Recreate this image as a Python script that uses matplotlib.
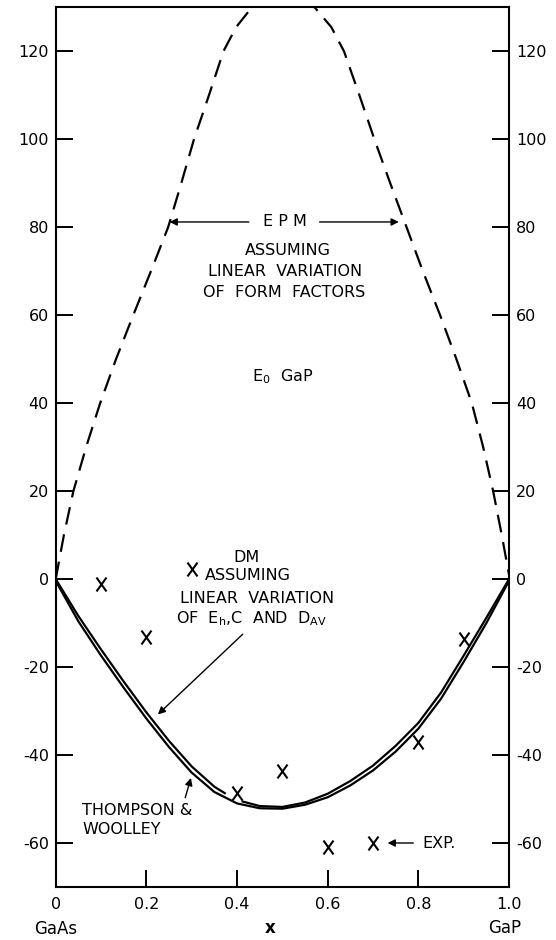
import matplotlib
matplotlib.use("Agg")
import matplotlib.pyplot as plt
import numpy as np
from matplotlib.path import Path

# EPM curve (dashed); top is clipped at 130
epm_x = [0.0, 0.018, 0.039, 0.067, 0.098, 0.133, 0.171, 0.21, 0.248, 0.277,
         0.305, 0.338, 0.370, 0.398, 0.432, 0.465, 0.503, 0.54,
         0.572, 0.608, 0.636, 0.67, 0.703, 0.738, 0.774, 0.81, 0.848,
         0.884, 0.918, 0.943, 0.965, 0.984, 1.0]
epm_y = [0.0, 10, 20, 30, 40, 50, 60, 70, 80, 90,
         100, 110, 120, 125.5, 129.9, 132.5, 133.6, 132.6,
         129.9, 125.5, 120, 110, 100, 90, 80, 70, 60,
         50, 40, 30, 20, 10, 1.0]

# DM curve (inner solid line); gap where it stops near x = 0.4
dm_x = [0.0, 0.05, 0.1, 0.15, 0.2, 0.25, 0.3, 0.35, 0.375, np.nan, 0.41,
        0.45, 0.5, 0.55, 0.6, 0.65, 0.7, 0.75, 0.8, 0.85, 0.9, 0.95, 1.0]
dm_y = [0.0, -8.4, -16.0, -23.3, -30.3, -36.8, -42.6, -47.2, -48.8, np.nan, -50.5,
        -51.6, -51.8, -50.8, -48.8, -45.9, -42.4, -37.9, -32.7, -25.8, -17.4, -8.8, 0.0]

# Thompson & Woolley curve (outer solid line)
tw_x = [0.0, 0.05, 0.1, 0.15, 0.2, 0.25, 0.3, 0.35, 0.4, 0.45, 0.5,
        0.55, 0.6, 0.65, 0.7, 0.75, 0.8, 0.85, 0.9, 0.95, 1.0]
tw_y = [-0.4, -9.6, -17.4, -24.7, -31.7, -38.2, -44.0, -48.4, -51.0, -52.1, -52.2,
        -51.3, -49.6, -46.9, -43.5, -39.2, -34.0, -27.2, -18.8, -10.0, -0.4]

# experimental points (X)
exp_x = [0.1, 0.2, 0.3, 0.4, 0.5, 0.6, 0.7, 0.8, 0.9]
exp_y = [-1.1, -13.2, 2.3, -48.7, -43.6, -60.8, -60.0, -37.1, -13.7]

x_ticks = [0, 0.2, 0.4, 0.6, 0.8, 1.0]
x_tick_labels = ["0", "0.2", "0.4", "0.6", "0.8", "1.0"]
y_ticks = [-60, -40, -20, 0, 20, 40, 60, 80, 100, 120]

plt.rcParams["font.family"] = "DejaVu Sans"
plt.rcParams["axes.unicode_minus"] = False

fig = plt.figure(figsize=(5.56, 9.40), dpi=100)
ax = fig.add_axes([0.1002, 0.0564, 0.8153, 0.9358])

ax.plot(epm_x, epm_y, color="black", lw=1.6, linestyle=(0, (8, 4.5)))
ax.plot(dm_x, dm_y, color="black", lw=1.6, solid_capstyle="butt")
ax.plot(tw_x, tw_y, color="black", lw=1.6)

x_marker = Path([(-0.72, -1), (0.72, 1), (-0.72, 1), (0.72, -1)],
                [Path.MOVETO, Path.LINETO, Path.MOVETO, Path.LINETO])
ax.plot(exp_x, exp_y, linestyle="none", marker=x_marker, ms=10,
        mew=1.5, color="black")

ax.set_xlim(0, 1.0)
ax.set_ylim(-70, 130)
ax.set_xticks(x_ticks)
ax.set_xticklabels(x_tick_labels)
ax.set_yticks(y_ticks)

for s in ax.spines.values():
    s.set_linewidth(1.5)
ax.tick_params(axis="y", direction="in", length=12.5, width=1.4,
               left=True, right=True, labelleft=True, labelright=True,
               labelsize=11.5, pad=5)
ax.tick_params(axis="x", direction="in", length=12, width=1.4,
               labelsize=11.5, pad=7)

# labels under the x axis
ax.text(0.0, -79.5, "GaAs", ha="center", va="center", fontsize=12, clip_on=False)
ax.text(0.473, -79.3, "x", ha="center", va="center", fontsize=12,
        fontweight="bold", clip_on=False)
ax.text(0.99, -79.3, "GaP", ha="center", va="center", fontsize=12, clip_on=False)

# EPM annotation
fs = 11.5
ax.text(0.505, 81.2, "E P M", ha="center", va="center", fontsize=fs)
arrow = dict(arrowstyle="-|>", color="black", lw=1.0, mutation_scale=11)
ax.annotate("", xy=(0.245, 81.2), xytext=(0.432, 81.2), arrowprops=arrow)
ax.annotate("", xy=(0.763, 81.2), xytext=(0.576, 81.2), arrowprops=arrow)
ax.text(0.513, 74.8, "ASSUMING", ha="center", va="center", fontsize=fs)
ax.text(0.505, 69.9, "LINEAR  VARIATION", ha="center", va="center", fontsize=fs)
ax.text(0.503, 65.1, "OF  FORM  FACTORS", ha="center", va="center", fontsize=fs)
ax.text(0.50, 46.0, r"E$_\mathrm{0}$  GaP", ha="center", va="center", fontsize=fs)

# DM annotation
ax.text(0.421, 4.8, "DM", ha="center", va="center", fontsize=fs)
ax.text(0.425, 0.9, "ASSUMING", ha="center", va="center", fontsize=fs)
ax.text(0.444, -4.3, "LINEAR  VARIATION", ha="center", va="center", fontsize=fs)
ax.text(0.433, -9.0, r"OF  E$_\mathrm{h}$,C  AND  D$_\mathrm{AV}$", ha="center",
        va="center", fontsize=fs)
ax.annotate("", xy=(0.221, -31.2), xytext=(0.417, -12.1), arrowprops=arrow)

# Thompson & Woolley annotation
ax.text(0.059, -52.5, "THOMPSON &", ha="left", va="center", fontsize=fs)
ax.text(0.059, -57.0, "WOOLLEY", ha="left", va="center", fontsize=fs)
ax.annotate("", xy=(0.30, -44.6), xytext=(0.284, -50.3), arrowprops=arrow)

# experimental label
ax.text(0.808, -60.2, "EXP.", ha="left", va="center", fontsize=fs)
ax.annotate("", xy=(0.726, -60.0), xytext=(0.795, -60.0), arrowprops=arrow)

fig.savefig("out.png", dpi=100)
